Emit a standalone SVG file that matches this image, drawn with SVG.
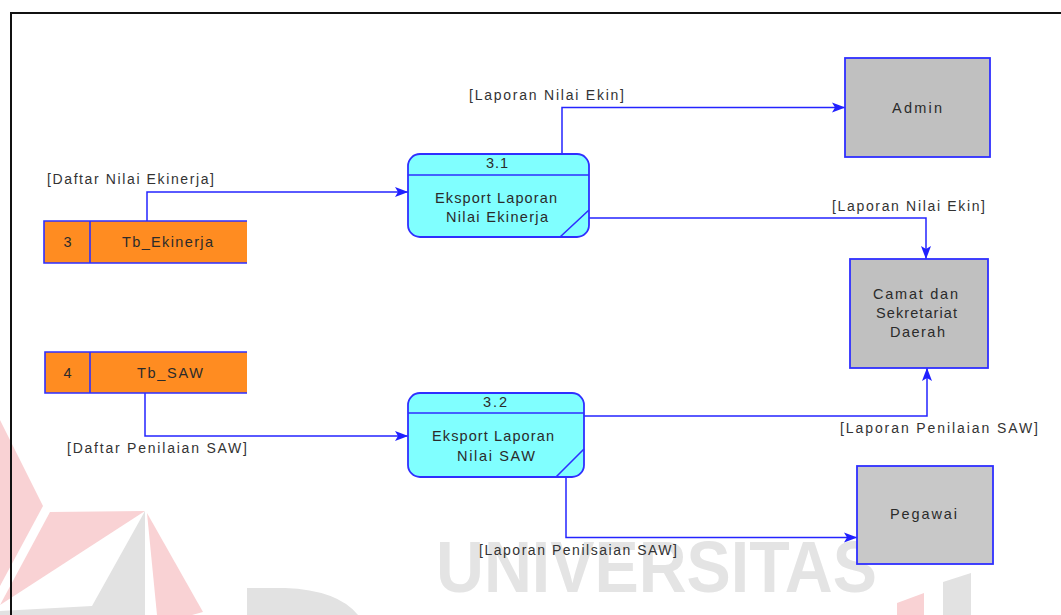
<svg xmlns="http://www.w3.org/2000/svg" width="1061" height="615" viewBox="0 0 1061 615">
  <defs>
    <style>
      .frame { fill: none; stroke: #111; stroke-width: 2; }
      .wm-red { fill: #f9d2d4; }
      .wm-gray { fill: #e2e2e2; }
      .wm-text { font-family: "Liberation Sans", Arial, sans-serif; font-weight: bold; font-size: 73px; fill: #e4e4e4; }
      .store { fill: #ff8c21; }
      .store-edge { fill: none; stroke: #2f2fff; stroke-width: 1.6; }
      .proc { fill: #80ffff; stroke: #2f2fff; stroke-width: 1.8; }
      .proc-line { fill: none; stroke: #2f2fff; stroke-width: 1.6; }
      .ext { fill: #c0c0c0; stroke: #2f2fff; stroke-width: 1.8; }
      .flow { fill: none; stroke: #2424ff; stroke-width: 1.5; marker-end: url(#dart); }
      .t { font-family: "Liberation Sans", Arial, sans-serif; font-size: 14.5px; fill: #2b2b2b; }
      .lbl { font-family: "Liberation Sans", Arial, sans-serif; font-size: 14px; fill: #333; }
      .mid { text-anchor: middle; }
    </style>
    <marker id="dart" markerUnits="userSpaceOnUse" markerWidth="18" markerHeight="12" viewBox="-16 -6 18 12" refX="0" refY="0" orient="auto">
      <path d="M0,0 L-5,-2 L-13,-5 L-10,0 L-13,5 L-5,2 Z" fill="#2020ff"/>
    </marker>
  </defs>

  <rect width="1061" height="615" fill="#ffffff"/>

  <!-- faint background logo -->
  <g id="watermark">
    <polygon class="wm-red" points="0,420 43,506 0,586"/>
    <polygon class="wm-red" points="50,512 145,511 0,605"/>
    <polygon class="wm-gray" points="145,511 92,606 0,611 0,615 145,615"/>
    <polygon class="wm-red" points="147,513 203,612 192,615 157,615"/>
    <path class="wm-gray" d="M247,588 H285 Q338,590 358,615 H247 Z"/>
    <polygon class="wm-red" points="897,603 924,593 924,615 897,615"/>
    <polygon class="wm-gray" points="943,582 971,573 971,615 943,615"/>
    <text class="wm-text" x="436" y="592" textLength="441" lengthAdjust="spacingAndGlyphs">UNIVERSITAS</text>
  </g>

  <!-- page frame -->
  <path class="frame" d="M11,620 V13 H1070"/>

  <!-- data flows -->
  <g id="connectors">
    <polyline class="flow" points="147,221 147,192 408,192"/>
    <text class="lbl" x="47" y="184" textLength="167" lengthAdjust="spacing">[Daftar Nilai Ekinerja]</text>

    <polyline class="flow" points="562,154 562,107.5 845,107.5"/>
    <text class="lbl" x="469" y="100" textLength="155" lengthAdjust="spacing">[Laporan Nilai Ekin]</text>

    <polyline class="flow" points="589,218 926,218 926,259"/>
    <text class="lbl" x="832" y="211" textLength="153" lengthAdjust="spacing">[Laporan Nilai Ekin]</text>

    <polyline class="flow" points="145,393 145,436 408,436"/>
    <text class="lbl" x="67" y="453" textLength="180" lengthAdjust="spacing">[Daftar Penilaian SAW]</text>

    <polyline class="flow" points="584,416 927,416 927,368"/>
    <text class="lbl" x="840" y="433" textLength="198" lengthAdjust="spacing">[Laporan Penilaian SAW]</text>

    <polyline class="flow" points="566,477 566,537.5 857,537.5"/>
    <text class="lbl" x="479" y="555" textLength="198" lengthAdjust="spacing">[Laporan Penilsaian SAW]</text>
  </g>

  <!-- data store 3 -->
  <g id="store-3">
    <rect class="store" x="44" y="221" width="203" height="42"/>
    <path class="store-edge" d="M247,221 H44 V263 H247 M90,221 V263"/>
    <text class="t mid" x="67.5" y="247">3</text>
    <text class="t" x="122" y="247" textLength="91" lengthAdjust="spacing">Tb_Ekinerja</text>
  </g>

  <!-- data store 4 -->
  <g id="store-4">
    <rect class="store" x="45" y="352" width="202" height="41"/>
    <path class="store-edge" d="M247,352 H45 V393 H247 M90,352 V393"/>
    <text class="t mid" x="67.5" y="378">4</text>
    <text class="t" x="137" y="378" textLength="66" lengthAdjust="spacing">Tb_SAW</text>
  </g>

  <!-- process 3.1 -->
  <g id="process-3-1">
    <rect class="proc" x="408" y="154" width="181" height="83" rx="12" ry="12"/>
    <path class="proc-line" d="M408,175 H589 M560,237 L589,210"/>
    <text class="t" x="486" y="168" textLength="22" lengthAdjust="spacing">3.1</text>
    <text class="t" x="435" y="203" textLength="122" lengthAdjust="spacing">Eksport Laporan</text>
    <text class="t" x="446" y="222" textLength="102" lengthAdjust="spacing">Nilai Ekinerja</text>
  </g>

  <!-- process 3.2 -->
  <g id="process-3-2">
    <rect class="proc" x="408" y="393" width="176" height="84" rx="12" ry="12"/>
    <path class="proc-line" d="M408,413 H584 M556,477 L584,449"/>
    <text class="t" x="483" y="407" textLength="24" lengthAdjust="spacing">3.2</text>
    <text class="t" x="432" y="441" textLength="122" lengthAdjust="spacing">Eksport Laporan</text>
    <text class="t" x="457" y="461" textLength="78" lengthAdjust="spacing">Nilai SAW</text>
  </g>

  <!-- external entities -->
  <g id="entity-admin">
    <rect class="ext" x="845" y="58" width="145" height="99"/>
    <text class="t" x="892" y="113" textLength="50" lengthAdjust="spacing">Admin</text>
  </g>

  <g id="entity-camat">
    <rect class="ext" x="850" y="259" width="138" height="109"/>
    <text class="t" x="873" y="299" textLength="85" lengthAdjust="spacing">Camat dan</text>
    <text class="t" x="876" y="318" textLength="81" lengthAdjust="spacing">Sekretariat</text>
    <text class="t" x="890" y="337" textLength="55" lengthAdjust="spacing">Daerah</text>
  </g>

  <g id="entity-pegawai">
    <rect class="ext" x="857" y="466" width="136" height="98" style="fill:#c8c8c8"/>
    <text class="t" x="890" y="519" textLength="67" lengthAdjust="spacing">Pegawai</text>
  </g>
</svg>
